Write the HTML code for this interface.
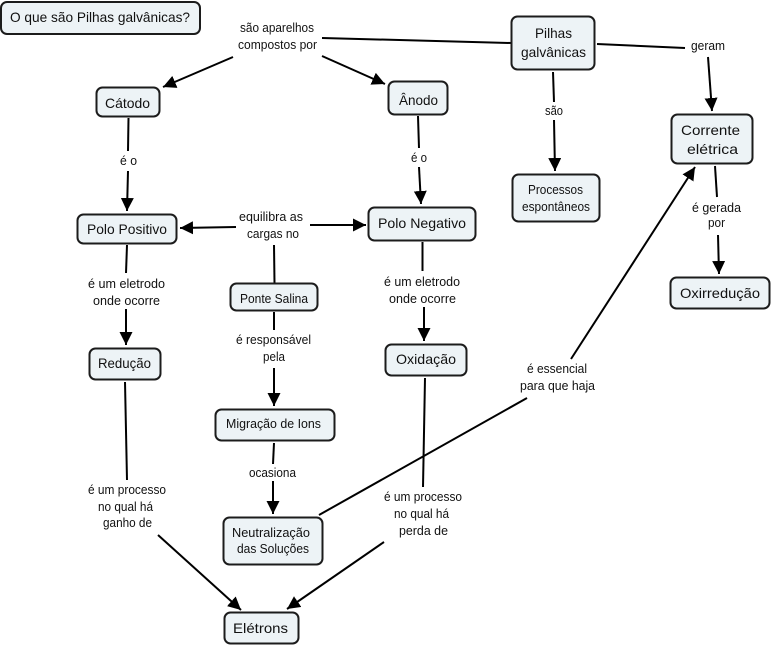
<!DOCTYPE html>
<html><head><meta charset="utf-8"><style>
html,body{margin:0;padding:0;background:#fff;width:772px;height:645px;overflow:hidden}
svg{display:block}
text{font-family:"Liberation Sans",sans-serif;fill:#111}
.n{font-size:14px}.s{font-size:12.5px}
rect{fill:#edf3f6;stroke:#1c1c1c;stroke-width:2}
line{stroke:#000;stroke-width:2}
</style></head><body>
<svg width="772" height="645" viewBox="0 0 772 645" xmlns="http://www.w3.org/2000/svg">
<defs><marker id="a" markerUnits="userSpaceOnUse" markerWidth="14" markerHeight="14" refX="13" refY="6.5" orient="auto"><path d="M0 0L13 6.5L0 13z" fill="#000"/></marker></defs>
<g>
<line x1="322" y1="38" x2="511" y2="43"/>
<line x1="233" y1="57" x2="163" y2="87" marker-end="url(#a)"/>
<line x1="322" y1="56" x2="385" y2="84" marker-end="url(#a)"/>
<line x1="128.500" y1="118" x2="128" y2="151"/>
<line x1="128" y1="171" x2="127" y2="211" marker-end="url(#a)"/>
<line x1="127" y1="245" x2="126" y2="273"/>
<line x1="126" y1="309" x2="126" y2="345" marker-end="url(#a)"/>
<line x1="236" y1="227" x2="180" y2="228" marker-end="url(#a)"/>
<line x1="310" y1="225" x2="366" y2="225" marker-end="url(#a)"/>
<line x1="274" y1="245" x2="274.500" y2="283"/>
<line x1="418" y1="116" x2="419" y2="148"/>
<line x1="419" y1="167" x2="421" y2="204" marker-end="url(#a)"/>
<line x1="422.500" y1="242" x2="422.500" y2="271"/>
<line x1="424" y1="307" x2="424" y2="341" marker-end="url(#a)"/>
<line x1="553" y1="72" x2="554" y2="102"/>
<line x1="554" y1="120" x2="555" y2="171" marker-end="url(#a)"/>
<line x1="597" y1="44" x2="685" y2="48"/>
<line x1="708" y1="57" x2="712" y2="111" marker-end="url(#a)"/>
<line x1="715" y1="166" x2="717" y2="197"/>
<line x1="718" y1="235" x2="719" y2="274" marker-end="url(#a)"/>
<line x1="571" y1="359" x2="695" y2="167" marker-end="url(#a)"/>
<line x1="319" y1="515" x2="527" y2="398"/>
<line x1="274" y1="312" x2="274" y2="330"/>
<line x1="274" y1="368" x2="274" y2="406" marker-end="url(#a)"/>
<line x1="274" y1="443" x2="273" y2="464"/>
<line x1="273" y1="481" x2="273" y2="514" marker-end="url(#a)"/>
<line x1="125" y1="382" x2="127" y2="480"/>
<line x1="158" y1="535" x2="241" y2="610" marker-end="url(#a)"/>
<line x1="425" y1="378" x2="423" y2="487"/>
<line x1="384" y1="542" x2="287" y2="609" marker-end="url(#a)"/>
</g>
<g>
<rect x="1" y="2" width="199" height="32" rx="6"/>
<rect x="96.500" y="87.500" width="63" height="29" rx="6"/>
<rect x="388.500" y="81.500" width="59" height="33" rx="6"/>
<rect x="511.500" y="16.500" width="83" height="53" rx="6"/>
<rect x="671.500" y="114.500" width="81" height="49" rx="6"/>
<rect x="512.500" y="174.500" width="87" height="47" rx="6"/>
<rect x="670.500" y="277.500" width="99" height="31" rx="6"/>
<rect x="77.500" y="214.500" width="99" height="29" rx="6"/>
<rect x="368.500" y="207.500" width="107" height="33" rx="6"/>
<rect x="230.500" y="283.500" width="87" height="27" rx="6"/>
<rect x="89.500" y="348.500" width="71" height="31" rx="6"/>
<rect x="385.500" y="344.500" width="81" height="31" rx="6"/>
<rect x="215.500" y="409.500" width="119" height="31" rx="6"/>
<rect x="223.500" y="517.500" width="99" height="47" rx="6"/>
<rect x="224.500" y="612.500" width="74" height="31" rx="6"/>
</g>
<g class="n">
<text x="10" y="22" textLength="180" lengthAdjust="spacingAndGlyphs">O que são Pilhas galvânicas?</text>
<text x="105" y="108" textLength="45" lengthAdjust="spacingAndGlyphs">Cátodo</text>
<text x="399" y="105" textLength="39" lengthAdjust="spacingAndGlyphs">Ânodo</text>
<text x="535" y="38" textLength="37" lengthAdjust="spacingAndGlyphs">Pilhas</text>
<text x="521" y="57" textLength="65" lengthAdjust="spacingAndGlyphs">galvânicas</text>
<text x="681" y="135" textLength="59" lengthAdjust="spacingAndGlyphs">Corrente</text>
<text x="687" y="154" textLength="51" lengthAdjust="spacingAndGlyphs">elétrica</text>
<text x="87" y="234" textLength="80" lengthAdjust="spacingAndGlyphs">Polo Positivo</text>
<text x="378" y="228" textLength="88" lengthAdjust="spacingAndGlyphs">Polo Negativo</text>
<text x="680" y="298" textLength="80" lengthAdjust="spacingAndGlyphs">Oxirredução</text>
<text x="98" y="368" textLength="53" lengthAdjust="spacingAndGlyphs">Redução</text>
<text x="396" y="364" textLength="60" lengthAdjust="spacingAndGlyphs">Oxidação</text>
<text x="233" y="633" textLength="55" lengthAdjust="spacingAndGlyphs">Elétrons</text>
</g>
<g class="s">
<text x="240" y="32" textLength="74" lengthAdjust="spacingAndGlyphs">são aparelhos</text>
<text x="238" y="49" textLength="79" lengthAdjust="spacingAndGlyphs">compostos por</text>
<text x="120" y="165" textLength="17" lengthAdjust="spacingAndGlyphs">é o</text>
<text x="411" y="162" textLength="16" lengthAdjust="spacingAndGlyphs">é o</text>
<text x="239" y="221" textLength="64" lengthAdjust="spacingAndGlyphs">equilibra as</text>
<text x="247" y="238" textLength="52" lengthAdjust="spacingAndGlyphs">cargas no</text>
<text x="88" y="288" textLength="77" lengthAdjust="spacingAndGlyphs">é um eletrodo</text>
<text x="93" y="305" textLength="67" lengthAdjust="spacingAndGlyphs">onde ocorre</text>
<text x="384" y="286" textLength="76" lengthAdjust="spacingAndGlyphs">é um eletrodo</text>
<text x="389" y="303" textLength="67" lengthAdjust="spacingAndGlyphs">onde ocorre</text>
<text x="240" y="303" textLength="68" lengthAdjust="spacingAndGlyphs">Ponte Salina</text>
<text x="545" y="115" textLength="18" lengthAdjust="spacingAndGlyphs">são</text>
<text x="691" y="50" textLength="34" lengthAdjust="spacingAndGlyphs">geram</text>
<text x="528" y="194" textLength="55" lengthAdjust="spacingAndGlyphs">Processos</text>
<text x="522" y="211" textLength="68" lengthAdjust="spacingAndGlyphs">espontâneos</text>
<text x="692" y="212" textLength="49" lengthAdjust="spacingAndGlyphs">é gerada</text>
<text x="708" y="227" textLength="17" lengthAdjust="spacingAndGlyphs">por</text>
<text x="236" y="344" textLength="75" lengthAdjust="spacingAndGlyphs">é responsável</text>
<text x="263" y="361" textLength="22" lengthAdjust="spacingAndGlyphs">pela</text>
<text x="226" y="428" textLength="95" lengthAdjust="spacingAndGlyphs">Migração de Ions</text>
<text x="249" y="477" textLength="47" lengthAdjust="spacingAndGlyphs">ocasiona</text>
<text x="88" y="494" textLength="78" lengthAdjust="spacingAndGlyphs">é um processo</text>
<text x="98" y="511" textLength="55" lengthAdjust="spacingAndGlyphs">no qual há</text>
<text x="103" y="527" textLength="49" lengthAdjust="spacingAndGlyphs">ganho de</text>
<text x="384" y="501" textLength="78" lengthAdjust="spacingAndGlyphs">é um processo</text>
<text x="394" y="518" textLength="55" lengthAdjust="spacingAndGlyphs">no qual há</text>
<text x="399" y="535" textLength="49" lengthAdjust="spacingAndGlyphs">perda de</text>
<text x="232" y="537" textLength="78" lengthAdjust="spacingAndGlyphs">Neutralização</text>
<text x="237" y="553" textLength="72" lengthAdjust="spacingAndGlyphs">das Soluções</text>
<text x="527" y="373" textLength="60" lengthAdjust="spacingAndGlyphs">é essencial</text>
<text x="520" y="390" textLength="75" lengthAdjust="spacingAndGlyphs">para que haja</text>
</g>
</svg>
</body></html>
